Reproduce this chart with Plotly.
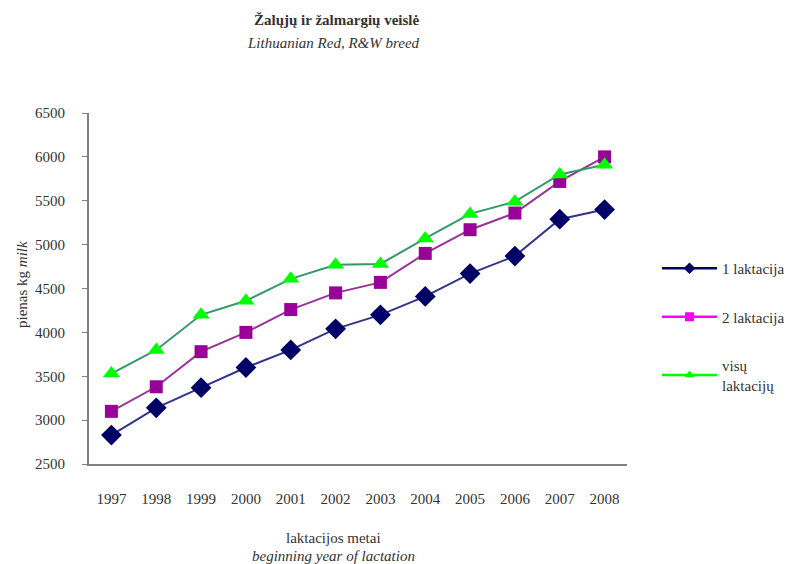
import plotly.graph_objects as go

years = ["1997", "1998", "1999", "2000", "2001", "2002",
         "2003", "2004", "2005", "2006", "2007", "2008"]
lakt_1 = [2830, 3140, 3370, 3600, 3800, 4040, 4200, 4410, 4670, 4870, 5290, 5400]
lakt_2 = [3100, 3380, 3780, 4000, 4260, 4450, 4570, 4900, 5170, 5360, 5720, 6000]
lakt_all = [3530, 3800, 4200, 4360, 4610, 4770, 4780, 5070, 5350, 5490, 5800, 5910]

y_ticks = [2500, 3000, 3500, 4000, 4500, 5000, 5500, 6000, 6500]

FONT = "Liberation Serif, Times New Roman, serif"
TXT = "#333333"

# the page body adds an 8px margin, so target positions are shifted by it
OFF = 8
L, R, T, B = 89 - OFF, 627 - OFF, 113 - OFF, 464 - OFF
W, H = R - L, B - T


def px(x, y):
    return (x - OFF - L) / W, (B - (y - OFF)) / H


# (name, data, line colour in plot, marker colour, legend colour, symbol, size)
series = [
    ("1 laktacija", lakt_1, "#33338a", "#000066", "#000066", "diamond", 16),
    ("2 laktacija", lakt_2, "#993399", "#990099", "#ff00ff", "square", 13),
    ("visų<br>laktacijų", lakt_all, "#339966", "#00ff00", "#00ff00", "triangle-up", 15),
]

fig = go.Figure()
for name, vals, lc, mc, legc, sym, size in series:
    fig.add_trace(go.Scatter(
        x=years, y=vals, mode="lines+markers", showlegend=False,
        line=dict(color=lc, width=2),
        marker=dict(symbol=sym, size=size, color=mc, line=dict(width=0)),
    ))
for i, (name, vals, lc, mc, legc, sym, size) in enumerate(series):
    # legend-only entries (Excel draws the legend keys in brighter colours)
    fig.add_trace(go.Scatter(
        x=[None], y=[None], mode="lines+markers", name=name,
        legendgroup=f"g{i}",
        line=dict(color=legc, width=2.5),
        marker=dict(symbol=sym, size=9, color=mc if i == 0 else legc, line=dict(width=0)),
    ))

texts = [
    ("<b>Žalųjų ir žalmargių veislė</b>", 336, 20, 0),
    ("<i>Lithuanian Red, R&W breed</i>", 333, 43, 0),
    ("pienas kg <i>milk</i>", 22, 285, -90),
    ("laktacijos metai", 333, 538, 0),
    ("<i>beginning year of lactation</i>", 333, 556, 0),
]
for txt, x, y, ang in texts:
    ax, ay = px(x, y)
    fig.add_annotation(text=txt, xref="paper", yref="paper", x=ax, y=ay,
                       xanchor="center", yanchor="middle",
                       showarrow=False, textangle=ang,
                       font=dict(size=15, color=TXT, family=FONT))

lx, ly = px(657, 252)
fig.update_layout(
    width=792, height=564,
    margin=dict(l=L, r=792 - R, t=T, b=564 - B, autoexpand=False),
    plot_bgcolor="white", paper_bgcolor="white",
    font=dict(family=FONT, size=15, color=TXT),
    xaxis=dict(type="category", range=[-0.5, 11.5], showgrid=False, showline=True,
               linecolor="#808080", linewidth=2, ticks="", ticklabelstandoff=20,
               tickfont=dict(size=15)),
    yaxis=dict(range=[2500, 6500], tickvals=y_ticks, showgrid=False, showline=True,
               linecolor="#808080", linewidth=2, ticks="outside", ticklen=5,
               tickcolor="#808080", ticklabelstandoff=14, zeroline=False,
               tickfont=dict(size=15)),
    legend=dict(x=lx, y=ly, xanchor="left", yanchor="top",
                traceorder="grouped", tracegroupgap=26, itemwidth=55,
                font=dict(size=15, color=TXT, family=FONT),
                bgcolor="rgba(0,0,0,0)"),
)

fig.write_html("out.html")
